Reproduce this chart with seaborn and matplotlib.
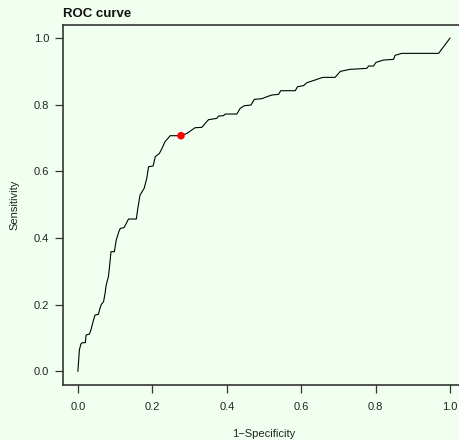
import matplotlib
matplotlib.use("Agg")
import matplotlib.pyplot as plt
import seaborn as sns
import pandas as pd

# ROC curve coordinates: false positive rate (1 - specificity) and true positive rate
fpr = [0.000, 0.004, 0.008, 0.012, 0.020, 0.022, 0.031, 0.035, 0.040, 0.046,
       0.055, 0.058, 0.063, 0.069, 0.073, 0.076, 0.082, 0.085, 0.089, 0.098,
       0.103, 0.110, 0.114, 0.124, 0.136, 0.157, 0.161, 0.167, 0.178, 0.185,
       0.190, 0.202, 0.208, 0.219, 0.226, 0.234, 0.242, 0.248, 0.277, 0.293,
       0.306, 0.315, 0.333, 0.342, 0.351, 0.373, 0.378, 0.391, 0.396, 0.427,
       0.436, 0.447, 0.465, 0.474, 0.494, 0.508, 0.521, 0.539, 0.545, 0.584,
       0.590, 0.606, 0.615, 0.637, 0.655, 0.660, 0.691, 0.705, 0.731, 0.776,
       0.781, 0.794, 0.801, 0.821, 0.848, 0.852, 0.870, 0.969, 1.000]
tpr = [0.000, 0.064, 0.082, 0.086, 0.086, 0.109, 0.112, 0.124, 0.146, 0.169,
       0.171, 0.184, 0.201, 0.209, 0.234, 0.259, 0.284, 0.314, 0.359, 0.359,
       0.394, 0.419, 0.429, 0.431, 0.457, 0.457, 0.489, 0.529, 0.549, 0.579,
       0.614, 0.616, 0.644, 0.654, 0.669, 0.689, 0.699, 0.707, 0.707, 0.714,
       0.724, 0.731, 0.732, 0.744, 0.755, 0.759, 0.766, 0.767, 0.772, 0.772,
       0.789, 0.797, 0.799, 0.816, 0.818, 0.824, 0.829, 0.831, 0.842, 0.842,
       0.854, 0.857, 0.866, 0.874, 0.881, 0.882, 0.882, 0.900, 0.906, 0.909,
       0.916, 0.916, 0.927, 0.934, 0.936, 0.948, 0.954, 0.954, 1.000]

# Optimal cut-off point
cut_fpr = [0.277]
cut_tpr = [0.707]

ticks = [0.0, 0.2, 0.4, 0.6, 0.8, 1.0]
tick_labels = ["0.0", "0.2", "0.4", "0.6", "0.8", "1.0"]

bg = "#F0FFF0"
axis_col = "#333333"

sns.set_theme(style="ticks")
plt.rcParams["font.family"] = ["Liberation Sans", "DejaVu Sans"]

roc = pd.DataFrame({"fpr": fpr, "tpr": tpr})
cut = pd.DataFrame({"fpr": cut_fpr, "tpr": cut_tpr})

fig = plt.figure(figsize=(4.6, 4.4), dpi=100, facecolor=bg)
ax = fig.add_axes([63 / 460, 55.3 / 440, 402 / 460, 360 / 440])
ax.set_facecolor(bg)

sns.lineplot(data=roc, x="fpr", y="tpr", sort=False, estimator=None,
             color="black", linewidth=0.8, ax=ax)
sns.scatterplot(data=cut, x="fpr", y="tpr", color="red", s=30,
                edgecolor="none", ax=ax, zorder=5)

ax.set_xlim(-0.04, 1.04)
ax.set_ylim(-0.04, 1.04)
ax.set_xticks(ticks)
ax.set_xticklabels(tick_labels)
ax.set_yticks(ticks)
ax.set_yticklabels(tick_labels)
ax.set_xlabel("")
ax.set_ylabel("")

for side in ["left", "bottom", "top", "right"]:
    ax.spines[side].set_visible(True)
    ax.spines[side].set_color(axis_col)
    ax.spines[side].set_linewidth(1.2)

ax.tick_params(axis="both", direction="out", length=5.5, width=0.9,
               color=axis_col, labelsize=8, labelcolor="#222222")
ax.tick_params(axis="x", pad=7)
ax.tick_params(axis="y", pad=4.5)

fig.text(63 / 460, 1 - 17 / 440, "ROC curve", fontsize=9.5, fontweight="bold",
         ha="left", va="baseline", color="#111111")
fig.text(264 / 460, 1 - 434 / 440, "1\u2212Specificity", fontsize=8,
         ha="center", va="center", color="#222222")
fig.text(14 / 460, 1 - 205 / 440, "Sensitivity", fontsize=8, rotation=90,
         ha="center", va="center", color="#222222")

fig.savefig("out.png", dpi=100, facecolor=bg)
